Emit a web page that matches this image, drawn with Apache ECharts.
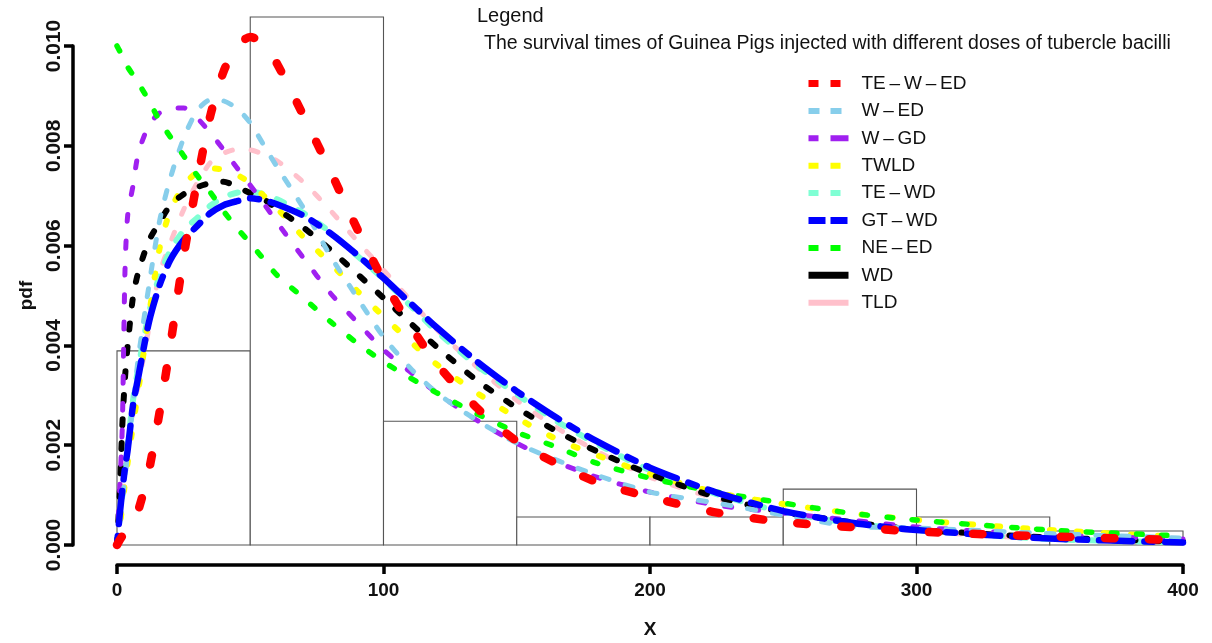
<!DOCTYPE html>
<html>
<head>
<meta charset="utf-8">
<script src="https://cdn.jsdelivr.net/npm/echarts@6/dist/echarts.min.js"></script>
<style>
  html, body { margin: 0; background: #fff; }
  #chart { width: 1212px; height: 643px; }
</style>
</head>
<body>
<div id="chart"></div>
<script>
// histogram of survival times (density scale)
const binStart = [0, 50, 100, 150, 200, 250, 300, 350];
const binEnd = [50, 100, 150, 200, 250, 300, 350, 400];
const binDensity = [0.00389, 0.01058, 0.00248, 0.00056, 0.00056, 0.00112, 0.00056, 0.00028];

const xs = [0, 1, 2, 3, 4, 6, 8, 12, 16, 20, 25, 30, 35, 40, 45, 50, 55, 60, 70, 80,
  90, 100, 110, 120, 135, 150, 165, 180, 200, 225, 250, 275, 300, 350, 400];

const teWEd = [0, 0.0001, 0.00018, 0.00026, 0.00035, 0.00052, 0.0007, 0.0015, 0.00267, 0.004,
  0.00578, 0.00727, 0.0086, 0.00949, 0.01, 0.01018, 0.01005, 0.00965, 0.0086, 0.0075,
  0.00635, 0.0053, 0.0044, 0.00363, 0.00275, 0.00208, 0.00163, 0.00126, 0.00096, 0.00065,
  0.00046, 0.00036, 0.00027, 0.00017, 0.0001];
const wEd = [0, 0.00045, 0.0009, 0.00135, 0.00185, 0.0028, 0.00375, 0.0052, 0.0065, 0.00735,
  0.00815, 0.0087, 0.00892, 0.0089, 0.00875, 0.00846, 0.00802, 0.00758, 0.00675, 0.0058,
  0.00497, 0.00417, 0.00355, 0.00305, 0.0025, 0.00204, 0.0017, 0.0014, 0.00106, 0.00084,
  0.0006, 0.00038, 0.00034, 0.00023, 0.00014];
const wGd = [0, 0.0011, 0.0024, 0.0055, 0.0066, 0.0072, 0.00785, 0.00842, 0.00866, 0.00876,
  0.00876, 0.00856, 0.00826, 0.00792, 0.00756, 0.00721, 0.00685, 0.00647, 0.00575, 0.00505,
  0.00447, 0.00391, 0.00347, 0.00305, 0.0025, 0.00204, 0.00166, 0.00136, 0.00106, 0.0008,
  0.00064, 0.0005, 0.00036, 0.0002, 0.00012];
const twld = [0, 0.00035, 0.0008, 0.00125, 0.00165, 0.0024, 0.0031, 0.0046, 0.00595, 0.0067,
  0.0072, 0.00747, 0.00755, 0.00752, 0.00742, 0.00725, 0.007, 0.00675, 0.00617, 0.00565,
  0.0051, 0.00458, 0.00408, 0.00362, 0.00305, 0.00255, 0.00212, 0.0018, 0.00142, 0.00105,
  0.00082, 0.00064, 0.0005, 0.0003, 0.00016];
const teWd = [0, 0.0005, 0.001, 0.0015, 0.002, 0.0029, 0.00355, 0.00465, 0.0054, 0.0059,
  0.0063, 0.00655, 0.0068, 0.00697, 0.00706, 0.00708, 0.00703, 0.00693, 0.00665, 0.00627,
  0.0058, 0.00533, 0.0048, 0.00428, 0.0036, 0.00302, 0.00248, 0.00203, 0.0015, 0.00102,
  0.00066, 0.00044, 0.0003, 0.00012, 0.00005];
const gtWd = [0, 0.0006, 0.0011, 0.00154, 0.0019, 0.0028, 0.00337, 0.00447, 0.00521, 0.00571,
  0.00611, 0.00639, 0.00665, 0.00681, 0.00689, 0.00695, 0.00691, 0.00683, 0.0066, 0.00625,
  0.00582, 0.00535, 0.00485, 0.00436, 0.00368, 0.00308, 0.00255, 0.00208, 0.00155, 0.00105,
  0.00068, 0.00045, 0.0003, 0.00013, 0.00005];
const neEd = [0.01, 0.0099, 0.0098, 0.0097, 0.00958, 0.00942, 0.00926, 0.0089, 0.0085, 0.00818,
  0.0078, 0.00741, 0.00707, 0.00669, 0.00635, 0.00605, 0.00573, 0.00541, 0.00495, 0.00448,
  0.00405, 0.00367, 0.00335, 0.00305, 0.00263, 0.00226, 0.00196, 0.00164, 0.00134, 0.00106,
  0.00084, 0.00064, 0.0005, 0.0003, 0.00018];
const wd = [0, 0.001, 0.0024, 0.00335, 0.004, 0.00497, 0.00547, 0.0061, 0.00647, 0.00681,
  0.00703, 0.00717, 0.00725, 0.00728, 0.00718, 0.00705, 0.00693, 0.00674, 0.00636, 0.00592,
  0.00544, 0.00495, 0.00445, 0.00397, 0.0033, 0.00275, 0.00228, 0.00188, 0.00142, 0.00096,
  0.00066, 0.00046, 0.00031, 0.00015, 0.00007];
const tld = [0, 0.00045, 0.0009, 0.00135, 0.0018, 0.00265, 0.0032, 0.00435, 0.00545, 0.00605,
  0.00672, 0.00725, 0.00766, 0.00785, 0.00793, 0.00792, 0.00783, 0.0077, 0.00727, 0.00671,
  0.0061, 0.00551, 0.00491, 0.00432, 0.00357, 0.0029, 0.00235, 0.00188, 0.00136, 0.00093,
  0.00064, 0.00043, 0.00028, 0.00012, 0.00005];

const xTicks = [0, 100, 200, 300, 400];
const yTicks = [0, 0.002, 0.004, 0.006, 0.008, 0.010];

const FONT = '"Liberation Sans", Arial, sans-serif';

// drawing order (last one on top)
const curves = [
  { name: 'TLD', data: tld, color: '#FFC0CB', width: 5, dash: [7, 19] },
  { name: 'TE\u2009\u2013\u2009WD', data: teWd, color: '#7FFFD4', width: 6, dash: [8, 16] },
  { name: 'TWLD', data: twld, color: '#FFFF00', width: 6, dash: [4, 23] },
  { name: 'WD', data: wd, color: '#000000', width: 6, dash: [6, 18] },
  { name: 'W\u2009\u2013\u2009GD', data: wGd, color: '#A020F0', width: 5, dash: [7, 20] },
  { name: 'W\u2009\u2013\u2009ED', data: wEd, color: '#87CEEB', width: 5, dash: [8, 17] },
  { name: 'NE\u2009\u2013\u2009ED', data: neEd, color: '#00FF00', width: 5.5, dash: [5.5, 19.5] },
  { name: 'GT\u2009\u2013\u2009WD', data: gtWd, color: '#0000FF', width: 6.5, dash: [9, 12, 33, 12] },
  { name: 'TE\u2009\u2013\u2009W\u2009\u2013\u2009ED', data: teWEd, color: '#FF0000', width: 8.5, dash: [9.5, 34.5] }
];

// legend order and the icon styles drawn in the legend box
const legendItems = [
  { name: 'TE\u2009\u2013\u2009W\u2009\u2013\u2009ED', width: 7, dash: [10, 12] },
  { name: 'W\u2009\u2013\u2009ED', width: 6, dash: [11, 11] },
  { name: 'W\u2009\u2013\u2009GD', width: 6, dash: [10, 12, 18, 10] },
  { name: 'TWLD', width: 6, dash: [10, 12] },
  { name: 'TE\u2009\u2013\u2009WD', width: 6, dash: [10, 12] },
  { name: 'GT\u2009\u2013\u2009WD', width: 7, dash: [17, 5] },
  { name: 'NE\u2009\u2013\u2009ED', width: 6, dash: [10, 12] },
  { name: 'WD', width: 7, dash: 'solid' },
  { name: 'TLD', width: 6, dash: 'solid' }
];

const histData = binStart.map((s, i) => [s, binEnd[i], binDensity[i]]);

const chart = echarts.init(document.getElementById('chart'));

const series = [
  {
    type: 'custom',
    name: 'hist',
    data: histData,
    encode: { x: [0, 1], y: 2 },
    z: 1,
    silent: true,
    renderItem: (params, api) => {
      const p0 = api.coord([api.value(0), api.value(2)]);
      const p1 = api.coord([api.value(1), 0]);
      return {
        type: 'rect',
        shape: { x: p0[0], y: p0[1], width: p1[0] - p0[0], height: p1[1] - p0[1] },
        style: { fill: '#fff', stroke: '#555', lineWidth: 1.1 }
      };
    }
  }
].concat(curves.map((c, i) => ({
  type: 'line',
  name: c.name,
  data: xs.map((x, j) => [x, c.data[j]]),
  symbol: 'none',
  smooth: 0.25,
  clip: false,
  z: 3 + i,
  color: c.color,
  lineStyle: { color: c.color, width: c.width, type: c.dash, cap: 'round', join: 'round' },
  emphasis: { disabled: true }
})));

chart.setOption({
  animation: false,
  backgroundColor: '#fff',
  title: [
    {
      text: 'Legend',
      left: 477, top: 6, padding: 0,
      textStyle: { fontFamily: FONT, fontSize: 20, fontWeight: 'normal', color: '#111' }
    },
    {
      text: 'The survival times of Guinea Pigs injected with different doses of tubercle bacilli',
      left: 484, top: 34, padding: 0,
      textStyle: { fontFamily: FONT, fontSize: 19.5, fontWeight: 'normal', color: '#111' }
    }
  ],
  legend: {
    orient: 'vertical',
    left: 805,
    top: 74,
    padding: 0,
    itemWidth: 40,
    itemHeight: 19,
    itemGap: 8.4,
    selectedMode: false,
    textStyle: { fontFamily: FONT, fontSize: 19, color: '#111', padding: [0, 0, 0, 8] },
    data: legendItems.map(it => ({
      name: it.name,
      itemStyle: { opacity: 0 },
      lineStyle: { width: it.width, type: it.dash, cap: 'butt' }
    }))
  },
  grid: { left: 117, right: 29, top: 46, bottom: 98, containLabel: false, outerBoundsMode: 'none' },
  xAxis: {
    type: 'value',
    min: xTicks[0],
    max: xTicks[xTicks.length - 1],
    interval: 100,
    offset: 20,
    axisLine: { show: true, onZero: false, lineStyle: { color: '#000', width: 3.5 } },
    axisTick: { show: true, length: 9, lineStyle: { color: '#000', width: 3.5 } },
    axisLabel: { margin: 16, fontFamily: FONT, fontSize: 19, fontWeight: 'bold', color: '#111' },
    splitLine: { show: false },
    name: 'X',
    nameLocation: 'middle',
    nameGap: 55,
    nameTextStyle: { fontFamily: FONT, fontSize: 19, fontWeight: 'bold', color: '#111' }
  },
  yAxis: {
    type: 'value',
    min: yTicks[0],
    max: yTicks[yTicks.length - 1],
    interval: 0.002,
    offset: 44,
    axisLine: { show: true, onZero: false, lineStyle: { color: '#000', width: 3.5 } },
    axisTick: { show: true, length: 9, lineStyle: { color: '#000', width: 3.5 } },
    axisLabel: {
      rotate: 90, margin: 8, fontFamily: FONT, fontSize: 21, fontWeight: 'bold', color: '#111',
      formatter: v => v.toFixed(3)
    },
    splitLine: { show: false },
    name: 'pdf',
    nameLocation: 'middle',
    nameGap: 37,
    nameTextStyle: { fontFamily: FONT, fontSize: 19, fontWeight: 'bold', color: '#111' }
  },
  series: series
});
</script>
</body>
</html>
